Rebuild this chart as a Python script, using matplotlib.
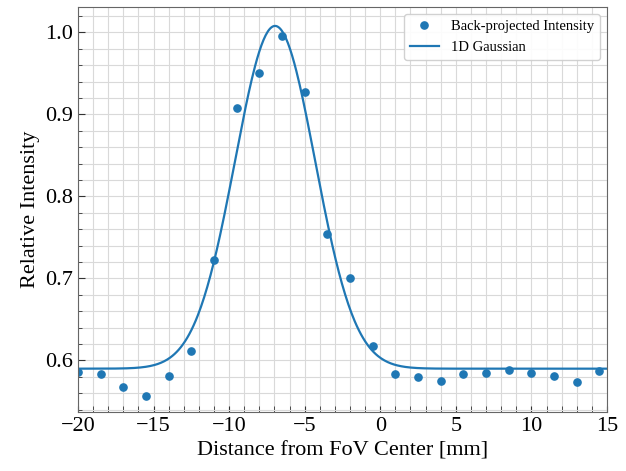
import numpy as np
from matplotlib import pyplot as plt
from matplotlib.ticker import MultipleLocator

# measured points (mm, relative intensity)
distance = [-20, -18.5, -17, -15.5, -14, -12.5, -11, -9.5, -8, -6.5, -5, -3.5,
            -2, -0.5, 1, 2.5, 4, 5.5, 7, 8.5, 10, 11.5, 13, 14.5]
intensity = [0.586, 0.583, 0.568, 0.557, 0.581, 0.611, 0.722, 0.908, 0.951, 0.996,
             0.928, 0.754, 0.700, 0.618, 0.583, 0.580, 0.575, 0.583, 0.585, 0.588,
             0.585, 0.581, 0.574, 0.587]

# fitted gaussian parameters
amp = 0.418
mu = -6.96
sigma = 2.65
offset = 0.59


def gaussian(x, a, m, s, c):
    return a * np.exp(-(x - m) ** 2 / (2 * s ** 2)) + c


plt.rcParams["font.family"] = ["Liberation Serif", "DejaVu Serif"]

fig = plt.figure(figsize=(6.26, 4.71), dpi=100)
ax = fig.add_axes([0.1246, 0.125, 0.845, 0.860])

x_fit = np.linspace(-20, 15, 500)
ax.plot(distance, intensity, "o", color="#1f77b4", markersize=5.2,
        label="Back-projected Intensity")
ax.plot(x_fit, gaussian(x_fit, amp, mu, sigma, offset), color="#1f77b4",
        linewidth=1.6, label="1D Gaussian")

ax.set_xlim(-20, 15)
ax.set_ylim(0.537, 1.031)
ax.xaxis.set_major_locator(MultipleLocator(5))
ax.xaxis.set_minor_locator(MultipleLocator(1))
ax.yaxis.set_major_locator(MultipleLocator(0.1))
ax.yaxis.set_minor_locator(MultipleLocator(0.02))
ax.tick_params(which="both", direction="in", colors="#333333", labelcolor="black",
               labelsize=16)
ax.tick_params(axis="x", which="both", length=4)
ax.tick_params(axis="y", which="major", length=5)
ax.tick_params(axis="y", which="minor", length=3)
ax.grid(which="both", color="#d9d9d9", linewidth=0.8)
ax.set_axisbelow(True)
for sp in ax.spines.values():
    sp.set_color("#666666")

ax.set_xlabel("Distance from FoV Center [mm]", fontsize=16)
ax.set_ylabel("Relative Intensity", fontsize=16)
ax.legend(loc="upper right", fontsize=10.5, framealpha=0.9)

fig.savefig("out.png")
